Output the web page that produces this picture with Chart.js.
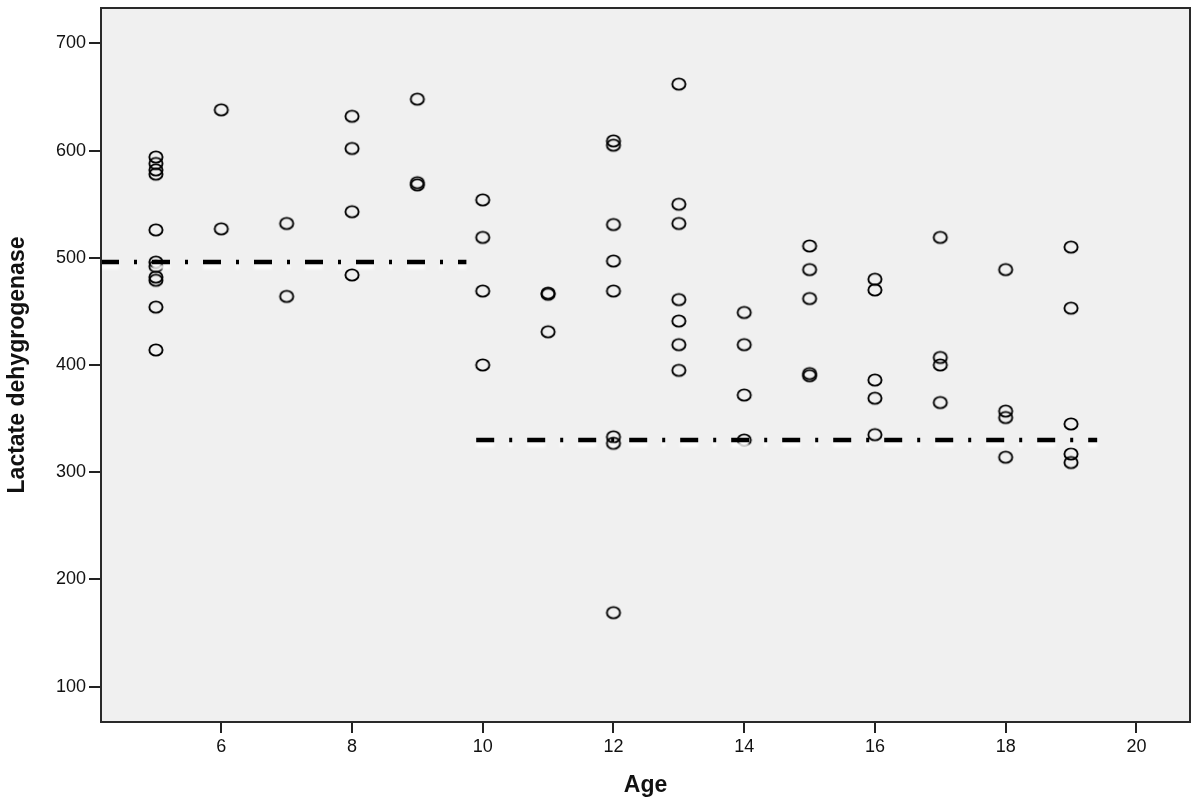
<!DOCTYPE html>
<html>
<head>
<meta charset="utf-8">
<script src="https://cdn.jsdelivr.net/npm/chart.js@4.4.1/dist/chart.umd.min.js"></script>
<style>
  html, body { margin: 0; padding: 0; background: #ffffff; }
  #c { display: block; }
</style>
</head>
<body>
<canvas id="c" width="1200" height="810"></canvas>
<script>
// ---- Data ----
const ages = [
  5,5,5,5,5,5,5,5,5,5,5,
  6,6,
  7,7,
  8,8,8,8,
  9,9,9,
  10,10,10,10,
  11,11,11,
  12,12,12,12,12,12,12,12,
  13,13,13,13,13,13,13,
  14,14,14,14,
  15,15,15,15,15,
  16,16,16,16,16,
  17,17,17,17,
  18,18,18,18,
  19,19,19,19,19
];
const ldh = [
  594,588,582,578,526,496,492,482,479,454,414,
  638,527,
  532,464,
  632,602,543,484,
  648,570,568,
  554,519,469,400,
  467,466,431,
  609,605,531,497,469,333,327,169,
  662,550,532,461,441,419,395,
  449,419,372,330,
  511,489,462,392,390,
  480,470,386,369,335,
  519,407,400,365,
  489,357,351,314,
  510,453,345,317,309
];
// Reference (group mean) lines
const meanYoungAges = [4.16, 9.75];
const meanYoungValue = 496;
const meanOldAges = [9.9, 19.4];
const meanOldValue = 330;

const xTicks = [6, 8, 10, 12, 14, 16, 18, 20];
const yTicks = [100, 200, 300, 400, 500, 600, 700];
const xRange = [4.16, 20.82];
const yRange = [67, 733];

const xTitle = 'Age';
const yTitle = 'Lactate dehygrogenase';

// ---- Marker (open ellipse) ----
const marker = document.createElement('canvas');
marker.width = 18; marker.height = 16;
(function () {
  const m = marker.getContext('2d');
  m.strokeStyle = '#000';
  m.lineWidth = 1.9;
  m.beginPath();
  m.ellipse(9, 8, 6.6, 5.6, 0, 0, Math.PI * 2);
  m.stroke();
})();

const scatterPoints = ages.map((a, i) => ({ x: a, y: ldh[i] }));
const lineYoung = meanYoungAges.map(a => ({ x: a, y: meanYoungValue }));
const lineOld = meanOldAges.map(a => ({ x: a, y: meanOldValue }));

const frame = {
  id: 'frame',
  beforeDraw(chart) {
    const { ctx, chartArea: a } = chart;
    ctx.save();
    ctx.fillStyle = '#f0f0f0';
    ctx.fillRect(a.left, a.top, a.right - a.left, a.bottom - a.top);
    ctx.restore();
  },
  afterDraw(chart) {
    const { ctx, chartArea: a } = chart;
    ctx.save();
    ctx.strokeStyle = '#2a2a2a';
    ctx.lineWidth = 2;
    ctx.strokeRect(a.left, a.top, a.right - a.left, a.bottom - a.top);
    ctx.restore();
  },
  beforeDatasetDraw(chart, args) {
    if (args.meta.type === 'line') {
      const ctx = chart.ctx;
      ctx.save();
      ctx.shadowColor = 'rgba(255,255,255,0.95)';
      ctx.shadowOffsetY = 5;
      ctx.shadowBlur = 3;
    }
  },
  afterDatasetDraw(chart, args) {
    if (args.meta.type === 'line') chart.ctx.restore();
  }
};

const lineStyle = {
  type: 'line',
  borderColor: '#000',
  borderWidth: 4.5,
  borderDash: [18, 15, 3, 15],
  borderCapStyle: 'butt',
  pointRadius: 0,
  fill: false,
  tension: 0
};

new Chart(document.getElementById('c'), {
  type: 'scatter',
  data: {
    datasets: [
      Object.assign({ label: 'Mean 5-9', data: lineYoung }, lineStyle),
      Object.assign({ label: 'Mean 10-19', data: lineOld }, lineStyle),
      {
        label: 'LDH',
        data: scatterPoints,
        pointStyle: marker,
        pointRadius: 7,
        pointHoverRadius: 7
      }
    ]
  },
  options: {
    responsive: false,
    animation: false,
    layout: { padding: { left: 0, right: 10, top: 2, bottom: 0 } },
    plugins: { legend: { display: false }, tooltip: { enabled: false } },
    scales: {
      x: {
        type: 'linear',
        min: xRange[0], max: xRange[1],
        afterBuildTicks(s) { s.ticks = xTicks.map(v => ({ value: v })); },
        afterFit(s) { s.height = 88; s.paddingLeft = 0; s.paddingRight = 0; },
        grid: { drawOnChartArea: false, drawTicks: true, tickLength: 11, color: '#222', lineWidth: 2 },
        border: { display: false },
        ticks: { color: '#111', font: { family: '"Liberation Sans", Arial, sans-serif', size: 18 }, padding: 3, maxRotation: 0 },
        title: {
          display: true, text: xTitle, color: '#111',
          font: { family: '"Liberation Sans", Arial, sans-serif', size: 23, weight: 'bold' },
          padding: { top: 0, bottom: 11 }
        }
      },
      y: {
        type: 'linear',
        min: yRange[0], max: yRange[1],
        afterBuildTicks(s) { s.ticks = yTicks.map(v => ({ value: v })); },
        afterFit(s) { s.width = 101; s.paddingTop = 0; s.paddingBottom = 0; },
        grid: { drawOnChartArea: false, drawTicks: true, tickLength: 12, color: '#222', lineWidth: 2 },
        border: { display: false },
        ticks: { color: '#111', font: { family: '"Liberation Sans", Arial, sans-serif', size: 18 }, padding: 3 },
        title: {
          display: true, text: yTitle, color: '#111',
          font: { family: '"Liberation Sans", Arial, sans-serif', size: 23, weight: 'bold' },
          padding: { top: 4, bottom: 0 }
        }
      }
    }
  },
  plugins: [frame]
});
</script>
</body>
</html>
